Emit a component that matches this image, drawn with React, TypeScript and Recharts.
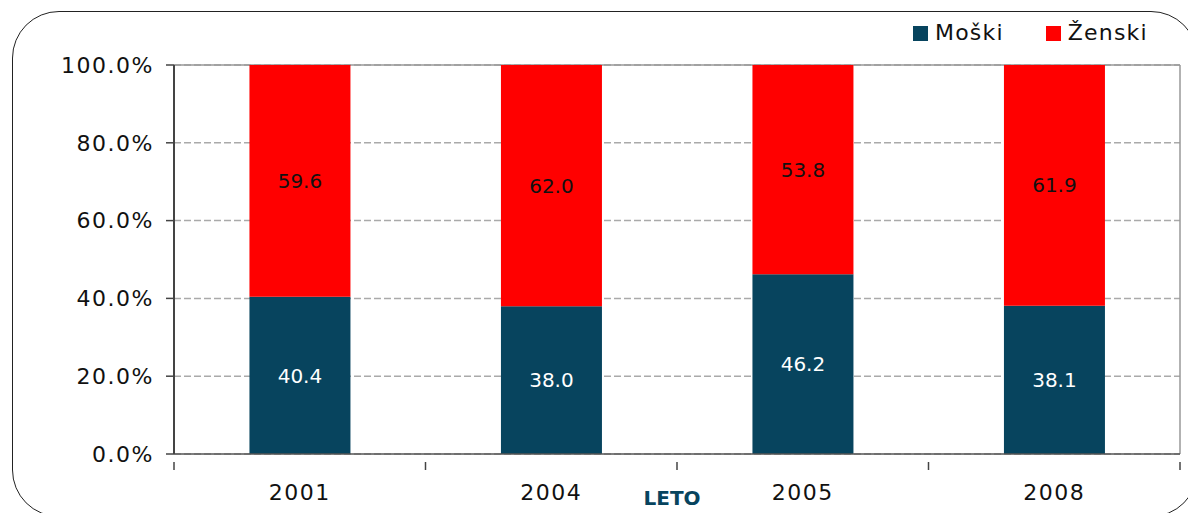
import { BarChart, Bar, XAxis, YAxis, CartesianGrid, LabelList } from "recharts";

const YEARS = ["2001", "2004", "2005", "2008"];
const MOSKI = [40.4, 38.0, 46.2, 38.1];
const ZENSKI = [59.6, 62.0, 53.8, 61.9];
const Y_TICKS = [0, 20, 40, 60, 80, 100];

const DARK = "#07445E";
const RED = "#FF0000";
const FONT = "'DejaVu Sans', Verdana, sans-serif";

const W = 1188;
const H = 513;
const MARGIN = { top: 65, right: 8, bottom: 0, left: 0 };
const Y_WIDTH = 174;
const X_HEIGHT = 59;
const BAND = (W - MARGIN.left - MARGIN.right - Y_WIDTH) / YEARS.length;

const data = YEARS.map((year, i) => ({ year, moski: MOSKI[i], zenski: ZENSKI[i] }));

// x ticks: label at category centre, tick marks at category boundaries
function YearTick(props: any) {
  const { x, y, payload, index } = props;
  const left = x - BAND / 2;
  return (
    <g>
      <line x1={left} y1={y} x2={left} y2={y + 8} stroke="#444" strokeWidth={1.5} />
      {index === YEARS.length - 1 && (
        <line x1={left + BAND} y1={y} x2={left + BAND} y2={y + 8} stroke="#444" strokeWidth={1.5} />
      )}
      <text x={x} y={y + 30} textAnchor="middle" dominantBaseline="central" fontSize={22} letterSpacing={1.5} fill="#111" fontFamily={FONT}>
        {payload.value}
      </text>
    </g>
  );
}

function LegendBox() {
  const items = [
    { name: "Moški", color: DARK },
    { name: "Ženski", color: RED },
  ];
  return (
    <div style={{ position: "absolute", top: 20, left: 913, display: "flex", gap: 42, fontFamily: FONT, fontSize: 22, letterSpacing: 1.2, color: "#111", lineHeight: "26px" }}>
      {items.map((it) => (
        <div key={it.name} style={{ display: "flex", alignItems: "center", gap: 7 }}>
          <span style={{ display: "inline-block", width: 15, height: 15, background: it.color }} />
          <span>{it.name}</span>
        </div>
      ))}
    </div>
  );
}

export default function App() {
  return (
    <div style={{ position: "absolute", left: 0, top: 0, width: W, height: H, overflow: "hidden", background: "#fff" }}>
      <div
        style={{
          position: "absolute",
          left: 12,
          top: 11,
          width: 1186,
          height: 506,
          border: "1.5px solid #222",
          borderRadius: 47,
          boxSizing: "border-box",
        }}
      />
      <BarChart width={W} height={H} data={data} margin={MARGIN} barCategoryGap="30%" style={{ position: "absolute", left: 0, top: 0 }}>
        <CartesianGrid vertical={false} stroke="#AAAAAA" strokeWidth={1.5} strokeDasharray="7 3" />
        <CartesianGrid
          stroke="#999"
          strokeWidth={1.5}
          horizontalCoordinatesGenerator={({ offset }: any) => [offset.top]}
          verticalCoordinatesGenerator={({ offset }: any) => [offset.left + offset.width]}
        />
        <XAxis
          dataKey="year"
          height={X_HEIGHT}
          tickLine={false}
          axisLine={{ stroke: "#555", strokeWidth: 1.5 }}
          tick={<YearTick />}
          interval={0}
          label={{ value: "LETO", position: "insideBottom", offset: 8, dx: -5, fill: DARK, fontSize: 20, fontWeight: "bold", fontFamily: FONT }}
        />
        <YAxis
          width={Y_WIDTH}
          domain={[0, 100]}
          ticks={Y_TICKS}
          tickFormatter={(v: number) => `${v.toFixed(1)}%`}
          tickSize={8}
          tickMargin={12}
          axisLine={{ stroke: "#444", strokeWidth: 2 }}
          tickLine={{ stroke: "#444", strokeWidth: 1.5 }}
          tick={{ fontSize: 22, fill: "#111", fontFamily: FONT, letterSpacing: 1.5 }}
        />
        <Bar dataKey="moski" name="Moški" stackId="a" fill={DARK} isAnimationActive={false}>
          <LabelList dataKey="moski" position="center" formatter={(v: any) => Number(v).toFixed(1)} fill="#fff" fontSize={20} fontFamily={FONT} />
        </Bar>
        <Bar dataKey="zenski" name="Ženski" stackId="a" fill={RED} isAnimationActive={false}>
          <LabelList dataKey="zenski" position="center" formatter={(v: any) => Number(v).toFixed(1)} fill="#111" fontSize={20} fontFamily={FONT} />
        </Bar>
      </BarChart>
      <LegendBox />
    </div>
  );
}
